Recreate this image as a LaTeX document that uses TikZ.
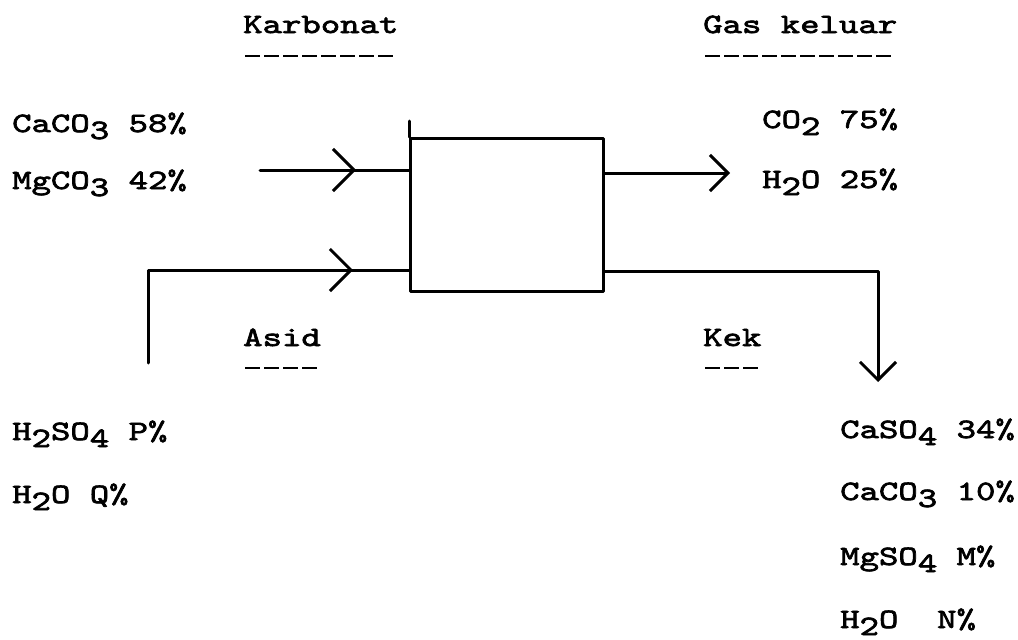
\documentclass[tikz,border=0pt]{standalone}
\usepackage{fontspec}
\newfontfamily\twf[FakeBold=2.5,FakeStretch=1.32]{lmmono10-regular.otf}
\usetikzlibrary{arrows.meta,decorations.markings}
\newcommand\tw{\twf\fontsize{28}{30}\selectfont}
\newcommand\sub[1]{\raisebox{-7pt}{#1}}
\tikzset{
  txt/.style={font=\tw, inner sep=0pt, anchor=base west},
  ln/.style={line width=3pt, line cap=round, line join=round},
  ul/.style={line width=2.6pt, dash pattern=on 15pt off 4pt},
  barb/.style={-{Straight Barb[length=18pt,width=36pt]}},
  midarr/.style={postaction={decorate}, decoration={markings,
     mark=at position #1 with {\arrow{Straight Barb[length=21pt,width=42pt]}}}}
}
\begin{document}
\begin{tikzpicture}[x=1pt,y=-1pt]
\useasboundingbox (0,0) rectangle (1018,640);
% labels
\node[txt] (kar) at (243,33) {Karbonat};
\node[txt] (gas) at (703,33) {Gas keluar};
\node[txt] (caco) at (12,132) {CaCO\sub{3} 58\%};
\node[txt] (mgco) at (12,189) {MgCO\sub{3} 42\%};
\node[txt] (co2) at (762,128) {CO\sub{2} 75\%};
\node[txt] (h2o) at (762,188) {H\sub{2}O 25\%};
\node[txt] (asid) at (243,346) {Asid};
\node[txt] (kek) at (703,346) {Kek};
\node[txt] (h2so4) at (12,440) {H\sub{2}SO\sub{4} P\%};
\node[txt] (h2oq) at (12,503) {H\sub{2}O Q\%};
\node[txt] (caso4) at (840,438) {CaSO\sub{4} 34\%};
\node[txt] (caco3) at (840,500) {CaCO\sub{3} 10\%};
\node[txt] (mgso4) at (840,565) {MgSO\sub{4} M\%};
\node[txt] (h2on) at (840,628) {H\sub{2}O\ \ N\%};
% underlines
\draw[ul] ([xshift=2pt,yshift=-23pt]kar.base west) -- ++(148,0);
\draw[ul] ([xshift=2pt,yshift=-23pt]gas.base west) -- ++(186,0);
\draw[ul] ([xshift=2pt,yshift=-22pt]asid.base west) -- ++(72,0);
\draw[ul] ([xshift=2pt,yshift=-22pt]kek.base west) -- ++(53,0);
% box
\node[ln, draw, anchor=north west, inner sep=0pt, minimum width=193pt, minimum height=153pt] (box) at (409,137) {};
\draw[ln] (box.north west) -- ++(0,-16);
% connectors
\coordinate (k) at (260,170);
\draw[ln, midarr=96pt] (k) -- (k -| box.west);
\coordinate (a) at (148,363);
\coordinate (a2) at (148,270);
\draw[ln, midarr=298pt] (a) -- (a2) -- (a2 -| box.west);
\coordinate (g) at (730,173);
\draw[ln, barb] (g -| box.east) -- (g);
\coordinate (kr) at (878,271);
\coordinate (kk) at (878,382);
\draw[ln, barb] (kr -| box.east) -- (kr) -- (kk);
\end{tikzpicture}
\end{document}
